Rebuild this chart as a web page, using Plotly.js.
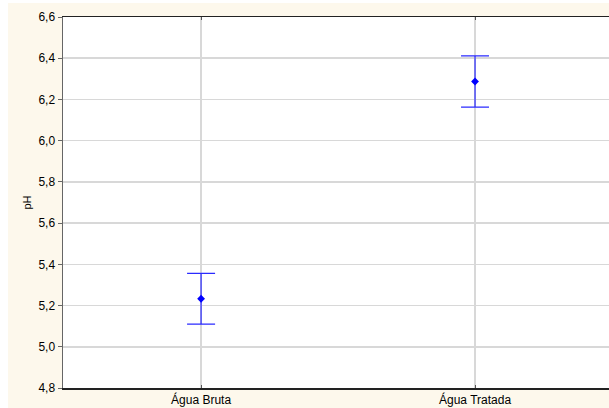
<!DOCTYPE html>
<html>
<head>
<meta charset="utf-8">
<script src="https://cdn.plot.ly/plotly-3.0.1.min.js"></script>
<style>
html,body{margin:0;padding:0;background:#ffffff;overflow:hidden;}
#chart{width:609px;height:408px;}
</style>
</head>
<body>
<div id="chart"></div>
<script>
const categories = ["Água Bruta", "Água Tratada"];
const means = [5.233, 6.287];
const errors = [0.123, 0.124];
const yTicks = [4.8, 5.0, 5.2, 5.4, 5.6, 5.8, 6.0, 6.2, 6.4, 6.6];

const trace = {
  type: "scatter",
  mode: "markers",
  x: [0, 1],
  y: means,
  marker: {symbol: "diamond", size: 6, color: "#0000ff"},
  error_y: {type: "data", array: errors, visible: true, color: "#2b2bff", thickness: 1.2, width: 14},
  hoverinfo: "none"
};

const L = 63, T = 17, W = 546, H = 371;
const layout = {
  width: 609, height: 408,
  margin: {l: L, r: 0, t: T, b: 408 - T - H, pad: 0},
  paper_bgcolor: "#ffffff",
  plot_bgcolor: "#ffffff",
  separators: ", ",
  showlegend: false,
  font: {family: "Arial, 'Liberation Sans', sans-serif", size: 12, color: "#000000"},
  xaxis: {
    range: [-0.504, 1.489],
    tickmode: "array",
    tickvals: [0, 1],
    ticktext: categories,
    showgrid: true,
    gridcolor: "#d8d8d8",
    gridwidth: 1.5,
    zeroline: false,
    showline: true,
    linecolor: "#222222",
    linewidth: 1.5,
    mirror: "ticks",
    ticks: "inside",
    ticklen: 3,
    tickcolor: "#555555",
    tickfont: {size: 12, color: "#000"},
    fixedrange: true
  },
  yaxis: {
    range: [4.8, 6.6],
    tickmode: "array",
    tickvals: yTicks,
    tickformat: ".1f",
    showgrid: true,
    gridcolor: "#d8d8d8",
    gridwidth: 1.5,
    zeroline: false,
    showline: true,
    linecolor: "#666666",
    linewidth: 1.5,
    mirror: true,
    ticks: "outside",
    ticklen: 4,
    tickcolor: "#666666",
    tickfont: {size: 12, color: "#000"},
    title: {text: "pH", font: {size: 11, color: "#000"}, standoff: 4},
    fixedrange: true
  },
  shapes: [
    {type: "rect", layer: "below", xref: "paper", yref: "paper",
     x0: (8 - L) / W, x1: (609 - L) / W + 0.01,
     y0: -(408 - T - H) / H - 0.01, y1: (T - 3) / H + 1,
     fillcolor: "#fdf8ec", line: {width: 0}},
    {type: "rect", layer: "below", xref: "paper", yref: "paper",
     x0: 0, x1: 1.01, y0: 0, y1: 1,
     fillcolor: "#ffffff", line: {width: 0}}
  ]
};

Plotly.newPlot("chart", [trace], layout, {displayModeBar: false, staticPlot: true});
</script>
</body>
</html>
